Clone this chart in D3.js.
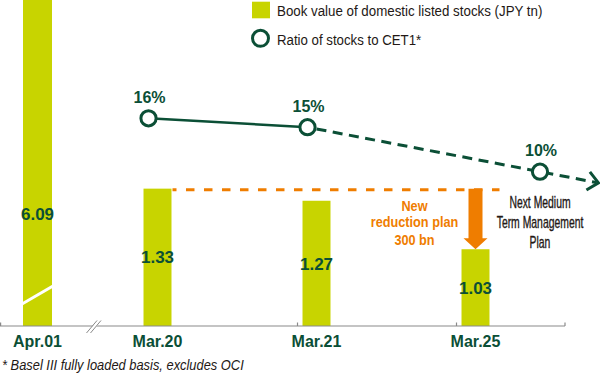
<!DOCTYPE html>
<html><head><meta charset="utf-8">
<script src="https://cdn.jsdelivr.net/npm/d3@7"></script>
<style>html,body{margin:0;padding:0;background:#fff;} svg{display:block;}</style>
</head><body><svg id="chart" width="600" height="374"></svg>
<script>
// ---- data ----
const categories = ["Apr.01", "Mar.20", "Mar.21", "Mar.25"];
const bookValues = [6.09, 1.33, 1.27, 1.03];
const valueLabels = ["6.09", "1.33", "1.27", "1.03"];
const ratioCategories = ["Mar.20", "Mar.21", "Next"];
const ratioValues = [16, 15, 10];
const ratioLabels = ["16%", "15%", "10%"];
const legendLabels = ["Book value of domestic listed stocks (JPY tn)", "Ratio of stocks to CET1*"];
const reductionLines = ["New", "reduction plan", "300 bn"];
const nextPlanLines = ["Next Medium", "Term Management", "Plan"];
const footnote = "* Basel III fully loaded basis, excludes OCI";

// ---- styles / layout ----
const W = 600, H = 374;
const baseY = 326, axisEnd = 565;
const barColor = "#c8d400";
const green = "#0b4f36";
const orange = "#ef7d00";
const dark = "#231815";
const FONT = "'Liberation Sans', Arial, sans-serif";

const svg = d3.select("#chart");

// x scales: a left segment (before the axis break) and the main segment
const xLeft = d3.scaleBand().domain(categories.slice(0, 1)).range([0, 75]).paddingInner(0).paddingOuter(0.793);
const xMain = d3.scaleBand().domain(categories.slice(1)).range([78, 555]).paddingInner(0.824).paddingOuter(0.412);
const xBar = c => (c === categories[0] ? xLeft(c) : xMain(c));
const bw = c => (c === categories[0] ? xLeft.bandwidth() : xMain.bandwidth());
const xCenter = c => xBar(c) + bw(c) / 2;

// y scale for book value (truncated axis, as in the original break)
const y = d3.scaleLinear().domain([0.65, 0.65 + baseY / 202]).range([baseY, 0]);
// y scale for ratio
const yr = d3.scaleLinear().domain([10, 16]).range([171.7, 118.3]);

function condText(parent, x, yy, str, sx, opts) {
  const g = parent.append("g").attr("transform", `translate(${x},${yy}) scale(${sx},1)`);
  const t = g.append("text").text(str)
    .attr("font-family", FONT)
    .attr("font-size", opts.size)
    .attr("font-weight", opts.weight || "normal")
    .attr("font-style", opts.style || "normal")
    .attr("fill", opts.fill)
    .attr("text-anchor", opts.anchor || "start");
  if (opts.stroke) t.attr("stroke", opts.fill).attr("stroke-width", opts.stroke);
  return t;
}

// ---- bars ----
const barData = categories.map((c, i) => ({ c, v: bookValues[i], label: valueLabels[i] }));
svg.append("g").selectAll("rect").data(barData).join("rect")
  .attr("x", d => xBar(d.c))
  .attr("width", d => bw(d.c))
  .attr("y", d => Math.max(0, y(d.v)))
  .attr("height", d => baseY - Math.max(0, y(d.v)))
  .attr("fill", barColor);

// break mark on the truncated first bar
{
  const c = categories[0];
  svg.append("line")
    .attr("x1", xBar(c) - 1).attr("y1", baseY - 22)
    .attr("x2", xBar(c) + bw(c) + 1).attr("y2", baseY - 40)
    .attr("stroke", "#fff").attr("stroke-width", 3);
}

// value labels
svg.append("g").selectAll("text").data(barData).join("text")
  .attr("x", d => xCenter(d.c))
  .attr("y", d => {
    const top = Math.max(0, y(d.v));
    const frac = y(d.v) < 0 ? 0.655 : 0.5;
    return top + (baseY - top) * frac;
  })
  .attr("dy", "0.36em")
  .attr("text-anchor", "middle")
  .attr("font-family", FONT).attr("font-weight", "bold").attr("font-size", 17)
  .attr("fill", green)
  .text(d => d.label);

// ---- x axis ----
const axisG = svg.append("g");
axisG.append("line").attr("x1", 0).attr("x2", axisEnd).attr("y1", baseY).attr("y2", baseY)
  .attr("stroke", "#8a8a8a").attr("stroke-width", 1.2);
const tickXs = [0.6, xMain.range()[0] + xMain.step() * (xMain.paddingOuter() + 1) - 5,
  xMain.range()[0] + xMain.step() * (xMain.paddingOuter() + 2) - 5, axisEnd];
axisG.selectAll(".tick").data(tickXs).join("line")
  .attr("x1", d => d).attr("x2", d => d).attr("y1", baseY).attr("y2", baseY - 3.5)
  .attr("stroke", "#8a8a8a").attr("stroke-width", 1.2);
// axis break
axisG.append("polygon").attr("points", `87,333 91,333 101.5,320.5 97.5,320.5`).attr("fill", "#fff");
axisG.append("line").attr("x1", 86.5).attr("y1", 333).attr("x2", 97).attr("y2", 320.5).attr("stroke", "#8a8a8a").attr("stroke-width", 1);
axisG.append("line").attr("x1", 90.5).attr("y1", 333).attr("x2", 101).attr("y2", 320.5).attr("stroke", "#8a8a8a").attr("stroke-width", 1);

axisG.selectAll(".lab").data(categories).join("text")
  .attr("x", d => xCenter(d)).attr("y", 346.5)
  .attr("text-anchor", "middle")
  .attr("font-family", FONT).attr("font-weight", "bold").attr("font-size", 16)
  .attr("fill", green).text(d => d);

// ---- reduction annotation (orange) ----
const dashY = y(bookValues[1]);
const c25 = categories[3];
svg.append("line")
  .attr("x1", xBar(categories[1]) + bw(categories[1]) + 1).attr("x2", xBar(c25) + bw(c25) + 10)
  .attr("y1", dashY + 1).attr("y2", dashY + 1)
  .attr("stroke", orange).attr("stroke-width", 3).attr("stroke-dasharray", "8.5,9.5").attr("stroke-dashoffset", 4.5);
{
  const cx = xCenter(c25), tip = y(bookValues[3]);
  const headH = 11, shaftW = 7, headW = 12;
  svg.append("path")
    .attr("d", `M${cx - shaftW},${dashY} L${cx + shaftW},${dashY} L${cx + shaftW},${tip - headH} L${cx + headW},${tip - headH} L${cx},${tip} L${cx - headW},${tip - headH} L${cx - shaftW},${tip - headH} Z`)
    .attr("fill", orange);
  const tx = cx - 61;
  const offs = [22, 38.5, 56];
  reductionLines.forEach((s, i) => condText(svg, tx, dashY + offs[i], s, 0.82,
    { size: 15.5, weight: "bold", fill: orange, anchor: "middle" }));
}

// ---- ratio line ----
const xLine = c => (c === "Next" ? axisEnd - 25 : xBar(c) + 5);
const pts = ratioCategories.map((c, i) => ({ c, v: ratioValues[i], label: ratioLabels[i], x: xLine(ratioCategories[i]), y: yr(ratioValues[i]) }));
svg.append("line").attr("x1", pts[0].x).attr("y1", pts[0].y).attr("x2", pts[1].x).attr("y2", pts[1].y)
  .attr("stroke", green).attr("stroke-width", 2.6);
const slope = (pts[2].y - pts[1].y) / (pts[2].x - pts[1].x);
const tipX = W - 1.5, tipY = pts[2].y + (tipX - pts[2].x) * slope;
svg.append("line").attr("x1", pts[1].x + 9).attr("y1", pts[1].y + 9 * slope).attr("x2", tipX - 2).attr("y2", tipY - 2 * slope)
  .attr("stroke", green).attr("stroke-width", 3).attr("stroke-dasharray", "10,6.5");
{
  const ang = Math.atan2(tipY - pts[1].y, tipX - pts[1].x);
  const L = 14, spread = 0.72;
  const a1 = ang + Math.PI - spread, a2 = ang + Math.PI + spread;
  svg.append("polyline")
    .attr("points", `${tipX + L * Math.cos(a1)},${tipY + L * Math.sin(a1)} ${tipX},${tipY} ${tipX + L * Math.cos(a2)},${tipY + L * Math.sin(a2)}`)
    .attr("fill", "none").attr("stroke", green).attr("stroke-width", 3);
}
svg.append("g").selectAll("circle").data(pts).join("circle")
  .attr("cx", d => d.x).attr("cy", d => d.y).attr("r", 7.6)
  .attr("fill", "#fff").attr("stroke", green).attr("stroke-width", 3);
svg.append("g").selectAll("text").data(pts).join("text")
  .attr("x", d => d.x + 1).attr("y", d => d.y - 15.5)
  .attr("text-anchor", "middle")
  .attr("font-family", FONT).attr("font-weight", "bold").attr("font-size", 16)
  .attr("fill", green).text(d => d.label);

// next plan label
{
  const p = pts[2];
  const offs = [36, 56, 76];
  nextPlanLines.forEach((s, i) => condText(svg, p.x, p.y + offs[i], s, 0.65,
    { size: 16, fill: dark, anchor: "middle", stroke: 0.35 }));
}

// ---- legend ----
svg.append("rect").attr("x", 252).attr("y", 1.7).attr("width", 18).attr("height", 16.6).attr("fill", barColor);
svg.append("circle").attr("cx", 260.5).attr("cy", 38.3).attr("r", 8).attr("fill", "#fff").attr("stroke", green).attr("stroke-width", 3);
condText(svg, 277, 16, legendLabels[0], 0.86, { size: 15.5, fill: dark });
condText(svg, 277, 44.5, legendLabels[1], 0.855, { size: 15.5, fill: dark });

// ---- footnote ----
condText(svg, 2, 370, footnote, 0.92, { size: 14, style: "italic", fill: dark });
</script>
</body></html>
